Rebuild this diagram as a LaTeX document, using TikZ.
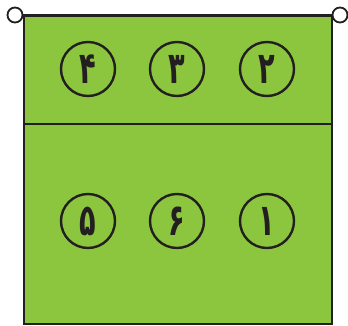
\documentclass[tikz,border=0pt]{standalone}
\usepackage{fontspec}
\newfontfamily\arabicfont[Script=Arabic]{DejaVu Sans}
\TeXXeTstate=1
\definecolor{court}{HTML}{8CC63F}
\definecolor{ink}{HTML}{231F20}
\begin{document}
\begin{tikzpicture}[x=1pt,y=-1pt,
  playerpos/.style={circle,draw=ink,line width=2.4pt,minimum size=54pt,inner sep=0pt,
    font=\arabicfont\bfseries\fontsize{34}{34}\selectfont,text=ink},
  netpost/.style={circle,draw=ink,fill=white,line width=1.8pt,minimum size=15pt,inner sep=0pt}]
\useasboundingbox (0,0) rectangle (348,325);
\fill[court] (23.5,16) rectangle (332,324);
\draw[ink,line width=2pt] (23.5,16) -- (23.5,325) (332,16) -- (332,325) (23.5,324) -- (332,324);
\coordinate (nl) at (23.5,124);
\coordinate (nr) at (332,124);
\draw[ink,line width=2.2pt] (nl) -- (nr);
\node[netpost] (pl) at (15,15) {};
\node[netpost] (pr) at (340,15) {};
\draw[ink,line width=3pt] (pl) -- (pr);
\node[playerpos] (p4) at (88,69) {\scalebox{0.8}[1.3]{\beginR ۴\endR}};
\node[playerpos] (p3) at (177,69) {\scalebox{0.8}[1.3]{\beginR ۳\endR}};
\node[playerpos] (p2) at (267,69) {\scalebox{0.8}[1.3]{\beginR ۲\endR}};
\node[playerpos] (p5) at (88,221) {\scalebox{0.8}[1.3]{\beginR ۵\endR}};
\node[playerpos] (p6) at (177,221) {\scalebox{0.8}[1.3]{\beginR ۶\endR}};
\node[playerpos] (p1) at (267,221) {\scalebox{0.8}[1.3]{\beginR ۱\endR}};
\end{tikzpicture}
\end{document}
